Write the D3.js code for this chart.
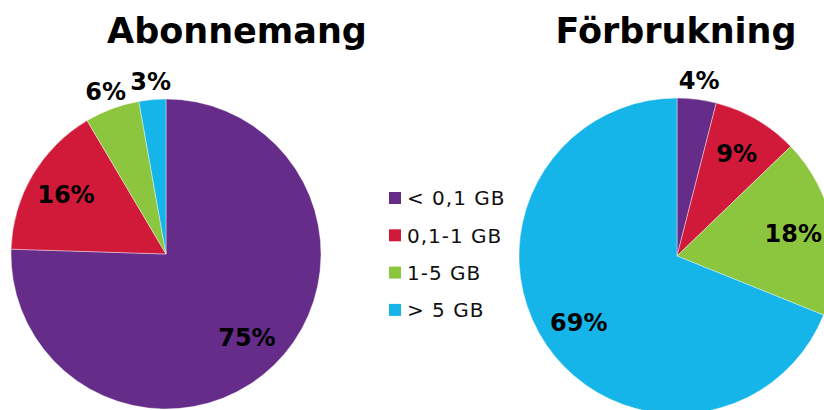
<!DOCTYPE html>
<html>
<head>
<meta charset="utf-8">
<script src="https://cdn.jsdelivr.net/npm/d3@7"></script>
<style>
  body { margin: 0; background: #fff; }
  svg { display: block; font-family: "DejaVu Sans", Verdana, sans-serif; }
</style>
</head>
<body>
<svg id="chart" width="824" height="410"></svg>
<script>
// Kategorier och värden (andel i procent)
const categories = ["< 0,1 GB", "0,1-1 GB", "1-5 GB", "> 5 GB"];
const abonnemang = [75.5, 16.0, 5.7, 2.8];
const forbrukning = [4.0, 8.8, 18.3, 68.9];
const abonnemangLabels = ["75%", "16%", "6%", "3%"];
const forbrukningLabels = ["4%", "9%", "18%", "69%"];
const colors = ["#652c8a", "#d11a3a", "#8cc63f", "#15b5e9"];

const svg = d3.select("#chart");
const color = d3.scaleOrdinal().domain(categories).range(colors);

const pie = d3.pie().sort(null).value(d => d.value);

function drawPie(title, values, labels, cx, cy, r, titleX) {
    const data = categories.map((c, i) => ({ cat: c, value: values[i], label: labels[i] }));
    const arcs = pie(data);
    const arc = d3.arc().innerRadius(0).outerRadius(r);
    const inner = d3.arc().innerRadius(r * 0.75).outerRadius(r * 0.75);
    const outer = d3.arc().innerRadius(r * 1.12).outerRadius(r * 1.12);

    const g = svg.append("g").attr("transform", `translate(${cx},${cy})`);
    g.selectAll("path")
        .data(arcs)
        .join("path")
        .attr("d", arc)
        .attr("fill", d => color(d.data.cat))
        .attr("stroke", "#fff")
        .attr("stroke-width", 0.4);

    // Etiketter: små andelar hamnar utanför cirkeln
    g.selectAll("text")
        .data(arcs)
        .join("text")
        .attr("transform", d => `translate(${(d.data.value < 7 ? outer : inner).centroid(d)})`)
        .attr("text-anchor", "middle")
        .attr("dy", "0.36em")
        .attr("font-size", 24)
        .attr("font-weight", "bold")
        .attr("fill", "#000")
        .text(d => d.data.label);

    svg.append("text")
        .attr("x", titleX)
        .attr("y", 43)
        .attr("text-anchor", "middle")
        .attr("font-size", 35)
        .attr("font-weight", "bold")
        .text(title);
}

drawPie("Abonnemang", abonnemang, abonnemangLabels, 166, 254, 155, 237);
drawPie("Förbrukning", forbrukning, forbrukningLabels, 677, 256, 158, 676);

// Teckenförklaring
const legend = svg.append("g").attr("transform", "translate(389,198)");
const rows = legend.selectAll("g")
    .data(categories)
    .join("g")
    .attr("transform", (d, i) => `translate(0,${i * 37.3})`);
rows.append("rect")
    .attr("x", 0).attr("y", -6)
    .attr("width", 12).attr("height", 12)
    .attr("fill", d => color(d));
rows.append("text")
    .attr("x", 18)
    .attr("dy", "0.36em")
    .attr("font-size", 20)
    .attr("letter-spacing", 1)
    .attr("fill", "#111")
    .text(d => d);
</script>
</body>
</html>
